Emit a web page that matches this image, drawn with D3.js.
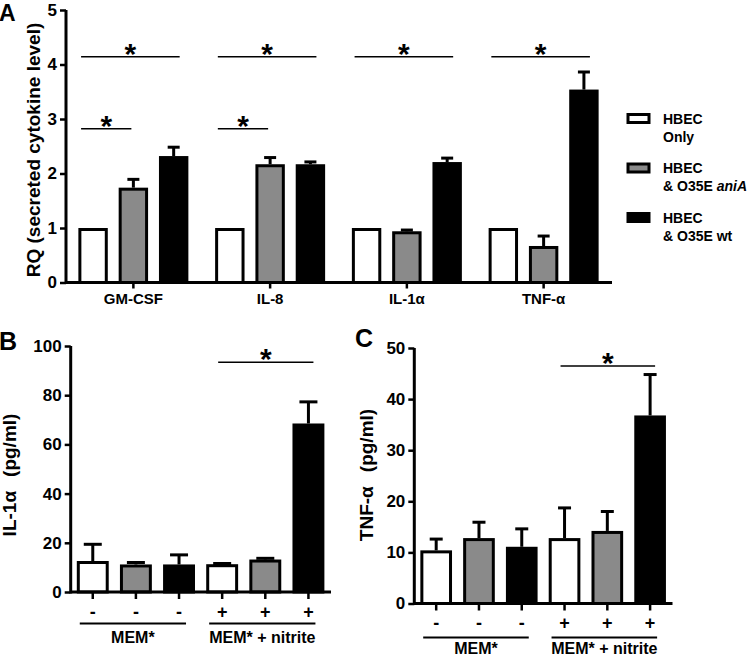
<!DOCTYPE html>
<html>
<head>
<meta charset="utf-8">
<script src="https://cdn.jsdelivr.net/npm/d3@7"></script>
<style>
  html, body { margin: 0; padding: 0; background: #fff; }
  svg { display: block; }
  text { font-family: "Liberation Sans", Arial, Helvetica, sans-serif; font-weight: bold; fill: #000; }
</style>
</head>
<body>
<svg id="chart" width="750" height="657"></svg>
<script>
// ---------------- DATA ----------------
// Panel A
const catsA = ["GM-CSF", "IL-8", "IL-1\u03b1", "TNF-\u03b1"];
const seriesA = ["only", "aniA", "wt"];
const onlyA = [1, 1, 1, 1];
const onlyErrA = [0, 0, 0, 0];
const aniAA = [1.74, 2.17, 0.94, 0.67];
const aniAErrA = [0.18, 0.15, 0.05, 0.21];
const wtA = [2.32, 2.17, 2.21, 3.54];
const wtErrA = [0.19, 0.07, 0.10, 0.35];
const ticksA = [0, 1, 2, 3, 4, 5];
// significance: [category index, from series index, to series index, level]
const sigA = [[0, 0, 2, 4.14], [1, 0, 2, 4.14], [2, 0, 2, 4.14], [3, 0, 2, 4.14], [0, 0, 1, 2.82], [1, 0, 1, 2.82]];

// Panel B (IL-1α pg/ml)
const condB = ["-", "-", "-", "+", "+", "+"];
const seriesB = ["only", "aniA", "wt", "only", "aniA", "wt"];
const meanB = [12.6, 11.2, 11.2, 11.3, 13.2, 68.5];
const errB = [7.4, 1.4, 4.5, 0.9, 1.1, 9.4];
const ticksB = [0, 20, 40, 60, 80, 100];
const sigB = [[3, 5, 93.4]];

// Panel C (TNF-α pg/ml)
const condC = ["-", "-", "-", "+", "+", "+"];
const seriesC = ["only", "aniA", "wt", "only", "aniA", "wt"];
const meanC = [10.4, 12.8, 11.1, 12.8, 14.2, 36.8];
const errC = [2.5, 3.4, 3.8, 6.2, 4.1, 8.3];
const ticksC = [0, 10, 20, 30, 40, 50];
const sigC = [[3, 5, 46.5]];

const groupLabels = ["MEM*", "MEM* + nitrite"];

const fills = { only: "#ffffff", aniA: "#8a8a8a", wt: "#000000" };

// ---------------- DRAW ----------------
const svg = d3.select("#chart");
const SW = 3;

function yAxis(g, y, ticks, x0) {
  const ax = g.append("g").attr("transform", `translate(${x0},0)`)
    .call(d3.axisLeft(y).tickValues(ticks).tickSize(6).tickSizeOuter(0).tickPadding(3).tickFormat(d3.format("d")));
  ax.select(".domain").attr("stroke", "#000").attr("stroke-width", SW)
    .attr("d", `M0,${y.range()[0] + SW / 2}V${y.range()[1]}`);
  ax.selectAll(".tick line").attr("stroke", "#000").attr("stroke-width", 2.5);
  ax.selectAll(".tick text").style("font-size", "17px");
  ax.attr("font-family", null).attr("font-size", null);
  return ax;
}

function drawBar(g, cx, w, yTop, yBase, fill) {
  g.append("rect")
    .attr("x", cx - w / 2 + SW / 2).attr("width", w - SW)
    .attr("y", yTop + SW / 2).attr("height", Math.max(0, yBase - yTop - SW / 2))
    .attr("fill", fill).attr("stroke", "#000").attr("stroke-width", SW);
}
function drawErr(g, cx, yTop, yErr, capW) {
  if (yTop - yErr < 0.5) return;
  g.append("line").attr("x1", cx).attr("x2", cx).attr("y1", yTop).attr("y2", yErr + 1.5)
    .attr("stroke", "#000").attr("stroke-width", SW);
  g.append("line").attr("x1", cx - capW / 2).attr("x2", cx + capW / 2).attr("y1", yErr + 1.5).attr("y2", yErr + 1.5)
    .attr("stroke", "#000").attr("stroke-width", SW);
}
function drawStar(g, x1, x2, yLine) {
  g.append("line").attr("x1", x1).attr("x2", x2).attr("y1", yLine).attr("y2", yLine)
    .attr("stroke", "#000").attr("stroke-width", 1.5);
  g.append("text").attr("x", (x1 + x2) / 2).attr("y", yLine + 7).attr("text-anchor", "middle")
    .style("font-size", "30px").text("*");
}

// ----- Panel A -----
(function () {
  const g = svg.append("g");
  const y = d3.scaleLinear().domain([0, 5]).range([282.5, 10]);
  const x = d3.scaleBand().domain(catsA).range([65, 612]);
  const xi = d3.scaleBand().domain(seriesA).range([-55, 55]).paddingInner(0.27).paddingOuter(0);
  const vals = { only: onlyA, aniA: aniAA, wt: wtA };
  const errs = { only: onlyErrA, aniA: aniAErrA, wt: wtErrA };

  catsA.forEach((c, i) => {
    const gc = x(c) + x.bandwidth() / 2;
    seriesA.forEach(s => {
      const cx = gc + xi(s) + xi.bandwidth() / 2;
      drawBar(g, cx, xi.bandwidth(), y(vals[s][i]), y(0), fills[s]);
      drawErr(g, cx, y(vals[s][i]), y(vals[s][i] + errs[s][i]), 12);
    });
  });
  // x axis
  const xa = g.append("g").attr("transform", `translate(0,${y(0)})`)
    .call(d3.axisBottom(x).tickSize(6).tickSizeOuter(0).tickPadding(5));
  xa.attr("font-family", null).attr("font-size", null);
  xa.select(".domain").attr("stroke-width", SW).attr("d", `M${65},0H612`);
  xa.selectAll(".tick line").attr("stroke-width", 2.5);
  xa.selectAll(".tick text").style("font-size", "15px");
  yAxis(g, y, ticksA, 66);

  sigA.forEach(([ci, s0, s1, lvl]) => {
    const gc = x(catsA[ci]) + x.bandwidth() / 2;
    const c0 = gc + xi(seriesA[s0]) + xi.bandwidth() / 2;
    const c1 = gc + xi(seriesA[s1]) + xi.bandwidth() / 2;
    drawStar(g, c0 - 12, c1 + (s1 === 2 ? 6 : -2), y(lvl));
  });

  g.append("text").attr("transform", "translate(40,150) rotate(-90)").attr("text-anchor", "middle")
    .style("font-size", "19px").text("RQ (secreted cytokine level)");
  g.append("text").attr("x", -1).attr("y", 21).style("font-size", "23px").text("A");

  // legend
  const leg = [
    { s: "only", l1: "HBEC", l2: [["Only", false]] },
    { s: "aniA", l1: "HBEC", l2: [["& O35E ", false], ["aniA", true]] },
    { s: "wt", l1: "HBEC", l2: [["& O35E wt", false]] }
  ];
  leg.forEach((d, i) => {
    const y0 = 114.5 + i * 49.5;
    g.append("rect").attr("x", 628).attr("y", y0).attr("width", 21).attr("height", 8)
      .attr("fill", fills[d.s]).attr("stroke", "#000").attr("stroke-width", SW);
    g.append("text").attr("x", 663).attr("y", y0 + 9).style("font-size", "14px").text(d.l1);
    const t = g.append("text").attr("x", 663).attr("y", y0 + 27).style("font-size", "14px");
    d.l2.forEach(([txt, it]) => t.append("tspan").style("font-style", it ? "italic" : "normal").text(txt));
  });
})();

// ----- Panels B and C -----
function panelBC(opts) {
  const g = svg.append("g");
  const y = d3.scaleLinear().domain([0, opts.ticks[opts.ticks.length - 1]]).range([opts.y0, opts.yTop]);
  const idx = d3.range(opts.mean.length);
  const x = d3.scaleBand().domain(idx).range([opts.x0 + 0.5, opts.x1]).paddingInner(0.26).paddingOuter(0.13);
  idx.forEach(i => {
    const cx = x(i) + x.bandwidth() / 2;
    drawBar(g, cx, x.bandwidth(), y(opts.mean[i]), y(0), fills[opts.series[i]]);
    drawErr(g, cx, y(opts.mean[i]), y(opts.mean[i] + opts.err[i]), opts.cap);
  });
  const xa = g.append("g").attr("transform", `translate(0,${y(0)})`)
    .call(d3.axisBottom(x).tickSize(7).tickSizeOuter(0).tickFormat(i => opts.cond[i]).tickPadding(6));
  xa.attr("font-family", null).attr("font-size", null);
  xa.select(".domain").attr("stroke-width", SW).attr("d", `M${opts.x0},0H${opts.x1 + 1}`);
  xa.selectAll(".tick line").attr("stroke-width", 2.5);
  xa.selectAll(".tick text").style("font-size", "18px");
  yAxis(g, y, opts.ticks, opts.x0);

  // group underlines
  const cen = i => x(i) + x.bandwidth() / 2;
  [[0, 2], [3, 5]].forEach(([a, b], k) => {
    const x1 = cen(a) - 13, x2 = cen(b) + 7;
    g.append("line").attr("x1", x1).attr("x2", x2).attr("y1", opts.y0 + opts.lineOff).attr("y2", opts.y0 + opts.lineOff)
      .attr("stroke", "#000").attr("stroke-width", 2);
    g.append("text").attr("x", (x1 + x2) / 2).attr("y", opts.y0 + opts.lineOff + opts.labOff).attr("text-anchor", "middle")
      .style("font-size", "16px").text(groupLabels[k]);
  });

  opts.sig.forEach(([a, b, lvl]) => drawStar(g, cen(a) - 4, cen(b) + 5, y(lvl)));

  const yl = g.append("text").attr("transform", `translate(${opts.labX},${opts.labY}) rotate(-90)`).attr("text-anchor", "middle")
    .style("font-size", "19px");
  yl.append("tspan").text(opts.label[0]);
  yl.append("tspan").attr("dx", 14).text(opts.label[1]);
  g.append("text").attr("x", opts.letterX).attr("y", opts.letterY).style("font-size", "25px").text(opts.letter);
}

panelBC({ mean: meanB, err: errB, series: seriesB, cond: condB, ticks: ticksB, sig: sigB,
  x0: 70.7, x1: 330, y0: 592, yTop: 346, cap: 18, lineOff: 31.5, labOff: 19.5,
  label: ["IL-1\u03b1", "(pg/ml)"], labX: 16, labY: 475, letter: "B", letterX: -1, letterY: 350 });

panelBC({ mean: meanC, err: errC, series: seriesC, cond: condC, ticks: ticksC, sig: sigC,
  x0: 414.3, x1: 671.5, y0: 603.5, yTop: 348, cap: 13, lineOff: 34, labOff: 16.5,
  label: ["TNF-\u03b1", "(pg/ml)"], labX: 373, labY: 475, letter: "C", letterX: 355, letterY: 347 });
</script>
</body>
</html>
